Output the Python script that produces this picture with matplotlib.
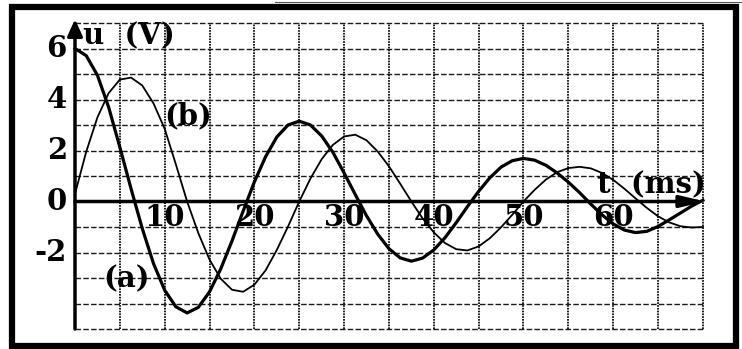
import matplotlib
matplotlib.use('Agg')
import matplotlib.pyplot as plt
from matplotlib.patches import Rectangle
from matplotlib.lines import Line2D

t_ms = [0, 1.25, 2.5, 3.75, 5, 6.25, 7.5, 8.75, 10, 11.25,
        12.5, 13.75, 15, 16.25, 17.5, 18.75, 20, 21.25, 22.5, 23.75,
        25, 26.25, 27.5, 28.75, 30, 31.25, 32.5, 33.75, 35, 36.25,
        37.5, 38.75, 40, 41.25, 42.5, 43.75, 45, 46.25, 47.5, 48.75,
        50, 51.25, 52.5, 53.75, 55, 56.25, 57.5, 58.75, 60, 61.25,
        62.5, 63.75, 65, 66.25, 67.5, 68.75, 70]

# curve (a), thick, starts at 6 V
u_a = [6.00, 5.72, 4.95, 3.70, 2.13, 0.50, -1.06, -2.43, -3.48, -4.13,
       -4.37, -4.15, -3.54, -2.64, -1.55, -0.37, 0.77, 1.76, 2.53, 3.00,
       3.15, 3.00, 2.57, 1.93, 1.12, 0.27, -0.56, -1.28, -1.85, -2.21,
       -2.34, -2.22, -1.90, -1.42, -0.83, -0.20, 0.40, 0.93, 1.35, 1.60,
       1.69, 1.62, 1.42, 1.12, 0.76, 0.35, -0.10, -0.52, -0.88, -1.12,
       -1.22, -1.17, -0.98, -0.72, -0.45, -0.18, 0.05]

# curve (b), thin, starts near 0 V
u_b = [0.30, 1.95, 3.30, 4.25, 4.78, 4.86, 4.55, 3.85, 2.85, 1.45,
       0.00, -1.24, -2.28, -3.03, -3.46, -3.54, -3.26, -2.70, -1.90, -0.98,
       0.00, 0.90, 1.66, 2.22, 2.55, 2.62, 2.40, 1.96, 1.38, 0.70,
       0.00, -0.66, -1.21, -1.63, -1.87, -1.92, -1.76, -1.44, -1.01, -0.52,
       0.00, 0.46, 0.86, 1.15, 1.31, 1.36, 1.30, 1.12, 0.85, 0.50,
       0.12, -0.25, -0.58, -0.82, -0.97, -1.02, -1.00]

x_ticks = [10, 20, 30, 40, 50, 60]
y_ticks = [6, 4, 2, 0, -2]
grid_t = [5, 10, 15, 20, 25, 30, 35, 40, 45, 50, 55, 60, 65, 70]
grid_u = [-5, -4, -3, -2, -1, 1, 2, 3, 4, 5, 6, 7]

plt.rcParams['font.family'] = 'DejaVu Serif'
plt.rcParams['lines.scale_dashes'] = False

fig = plt.figure(figsize=(7.42, 3.49), dpi=100)
ax = fig.add_axes([0, 0, 1, 1])
ax.set_xlim(-8.361, 74.36)
ax.set_ylim(-5.784, 7.902)
ax.axis('off')

# dashed grid
ax.hlines(grid_u, 0, 70, colors='#1a1a1a', linestyles=(0, (4, 1.6)), lw=1.0)
ax.vlines(grid_t, -5, 7, colors='#1a1a1a', linestyles=(0, (1.2, 0.8)), lw=1.4)

# curves
ax.plot(t_ms, u_a, color='black', lw=2.3, solid_joinstyle='round')
ax.plot(t_ms, u_b, color='black', lw=1.3, solid_joinstyle='round')

# axes with arrows
ax.annotate('', xy=(70.3, 0), xytext=(0, 0),
            arrowprops=dict(arrowstyle='-|>,head_length=1.5,head_width=0.35',
                            lw=2.5, color='black', shrinkA=0, shrinkB=0,
                            mutation_scale=10))
ax.annotate('', xy=(0, 7.15), xytext=(0, -5),
            arrowprops=dict(arrowstyle='-|>,head_length=1.0,head_width=0.45',
                            lw=2.5, color='black', shrinkA=0, shrinkB=0,
                            mutation_scale=10))

fs = 21
for v in x_ticks:
    ax.text(v, -0.62, str(v), ha='center', va='center', fontsize=fs, fontweight='bold')
for v in y_ticks:
    ax.text(-0.9, v, str(v), ha='right', va='center', fontsize=fs, fontweight='bold')

ax.text(0.9, 6.5, 'u  (V)', ha='left', va='center', fontsize=fs, fontweight='bold')
ax.text(58.2, 0.65, 't  (ms)', ha='left', va='center', fontsize=fs, fontweight='bold')
ax.text(10.0, 3.35, '(b)', ha='left', va='center', fontsize=fs, fontweight='bold')
ax.text(3.1, -3.05, '(a)', ha='left', va='center', fontsize=fs, fontweight='bold')

# outer frame of the scan
fig.add_artist(Rectangle((11.5 / 742, 3 / 349), (736 - 11.5) / 742, (342 - 3) / 349,
                         transform=fig.transFigure, fill=False, lw=4.5, ec='black'))
fig.add_artist(Line2D([275 / 742, 1], [347 / 349, 347 / 349],
                      transform=fig.transFigure, color='#555555', lw=0.8))

fig.savefig('out.png', dpi=100)
